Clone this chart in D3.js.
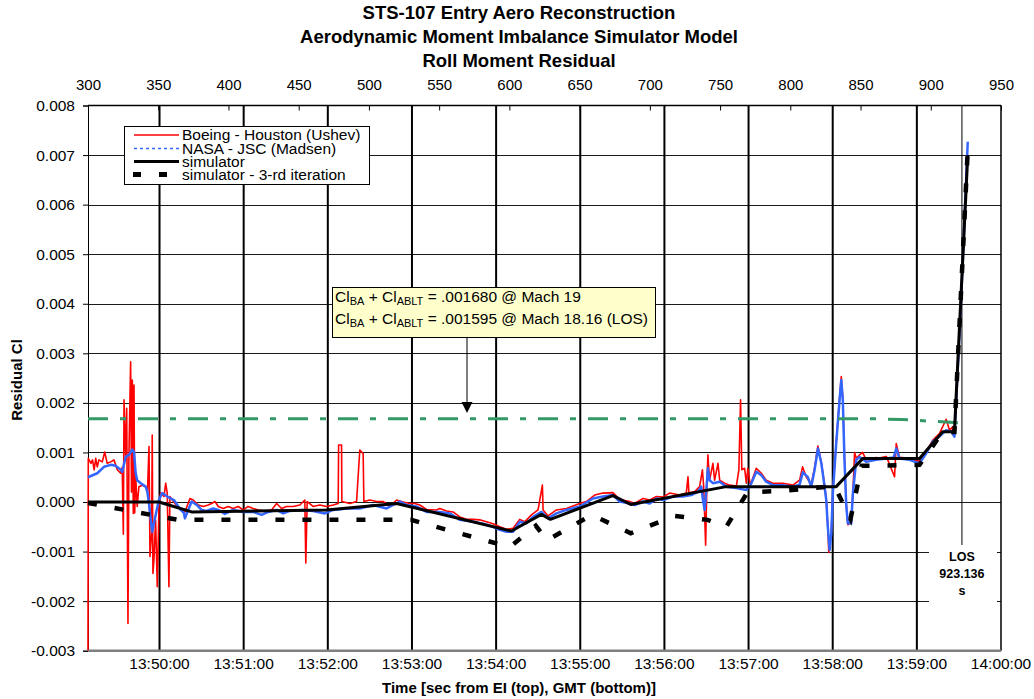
<!DOCTYPE html>
<html>
<head>
<meta charset="utf-8">
<script src="https://cdn.jsdelivr.net/npm/d3@7"></script>
<style>
  body { margin: 0; background: #fff; }
  svg { display: block; }
  text { font-family: "Liberation Sans", Arial, Helvetica, sans-serif; fill: #000; }
</style>
</head>
<body>
<svg id="chart" width="1034" height="699"></svg>
<script>
// Time is in seconds from Entry Interface (EI = 13:44:09 GMT).
// Residual roll-moment values in the series arrays are in units of 1e-3.
const EI_GMT_SECONDS = 13 * 3600 + 44 * 60 + 9;
const RESIDUAL_UNIT = 1e-3;

const titleLines = [
  "STS-107 Entry Aero Reconstruction",
  "Aerodynamic Moment Imbalance Simulator Model",
  "Roll Moment Residual"
];
const eiTicks = [300, 350, 400, 450, 500, 550, 600, 650, 700, 750, 800, 850, 900, 950];
const gmtTicks = ["13:50:00", "13:51:00", "13:52:00", "13:53:00", "13:54:00", "13:55:00",
                  "13:56:00", "13:57:00", "13:58:00", "13:59:00", "14:00:00"];
const residualTicks = [-0.003, -0.002, -0.001, 0, 0.001, 0.002, 0.003, 0.004, 0.005, 0.006, 0.007, 0.008];
const seriesNames = ["Boeing - Houston (Ushev)", "NASA - JSC (Madsen)", "simulator", "simulator - 3-rd iteration"];

// Boeing - Houston (Ushev) residual [s from EI, Cl x1e-3]
const boeing = [
  [300,-2.99],[300.2,0.88],[302.1,0.78],[303.2,0.85],[304.4,0.65],[305.5,0.88],[306.6,0.71],[307.8,0.85],
  [310.2,0.81],[311.9,1.01],[313.7,0.78],[316.2,0.81],[318.5,0.85],[320.9,0.65],[323.3,0.58],[324.4,0.70],
  [325.2,-0.65],[325.7,2.06],[326.9,0.85],[327.6,1.89],[328.5,-2.45],[329.2,0.98],[330.4,2.83],[331.0,0.20],
  [331.6,2.46],[332.3,-0.23],[332.8,2.36],[333.3,-0.22],[334.0,0.51],[335.1,-0.09],[336.3,0.31],[338.7,0.34],
  [341.1,0.31],[342.4,0.20],[343.5,1.12],[344.2,-1.10],[345.4,-0.63],[345.8,1.35],[346.3,-1.44],[347.0,-1.17],
  [348.2,-0.36],[349.4,-1.71],[350.6,-0.09],[351.8,0.18],[354.2,0.11],[355.4,0.38],[356.5,0.18],[357.7,-1.71],
  [358.4,0.11],[360.1,0.04],[363.6,-0.09],[365.6,-0.13],[369.1,-0.20],[372.7,0.07],[375.0,0.04],[378.6,-0.06],
  [382.2,-0.09],[385.7,-0.06],[388.1,-0.03],[390.5,0.01],[392.9,-0.09],[396.4,-0.13],[400.0,-0.09],[403.5,-0.13],
  [407.1,-0.09],[410.7,-0.16],[414.2,-0.09],[417.8,-0.13],[421.4,-0.16],[426.1,-0.18],[430.9,-0.16],[434.5,-0.03],
  [438.0,-0.13],[441.6,-0.09],[446.3,-0.09],[451.1,-0.06],[454.6,0.04],[455.3,-1.23],[456.3,0.01],[460.5,-0.09],
  [465.3,-0.06],[470.1,-0.09],[474.8,-0.06],[478.4,-0.03],[478.7,1.15],[480.8,1.15],[481.0,0.01],[486.7,-0.03],
  [491.5,0.01],[493.8,1.05],[496.2,0.98],[496.7,0.01],[501.0,0.04],[505.7,0.01],[510.4,0.01],[515.2,-0.09],
  [520.0,0.04],[524.7,0.00],[529.5,-0.03],[533.0,-0.03],[536.6,-0.06],[541.4,-0.15],[548.5,-0.16],[550.8,-0.13],
  [555.6,-0.18],[560.3,-0.20],[565.1,-0.30],[569.9,-0.35],[574.6,-0.35],[579.3,-0.36],[584.1,-0.40],[588.8,-0.44],
  [593.6,-0.50],[598.4,-0.55],[603.1,-0.53],[607.8,-0.35],[611.4,-0.40],[616.2,-0.26],[620.9,-0.16],[624.0,0.34],
  [624.5,-0.16],[628.0,-0.28],[634.0,-0.16],[641.1,-0.13],[650.6,-0.03],[655.3,0.01],[661.3,0.14],[667.2,0.18],
  [674.3,0.19],[679.1,0.05],[686.2,0.01],[689.8,-0.03],[695.7,0.07],[700.5,0.04],[705.3,0.11],[710.0,0.10],
  [714.8,0.18],[721.9,0.14],[726.6,0.18],[727.8,0.51],[728.5,0.18],[732.6,0.21],[736.1,0.31],[738.1,0.65],
  [739.0,0.31],[740.4,-0.87],[741.3,0.38],[742.0,0.95],[743.2,0.44],[745.6,0.78],[746.8,0.44],[749.2,0.78],
  [750.4,0.44],[753.9,0.38],[757.5,0.34],[762.3,0.32],[764.1,0.65],[765.3,2.06],[766.2,0.65],[768.2,0.68],
  [769.4,0.38],[770.5,0.68],[772.2,0.34],[776.5,0.68],[780.1,0.58],[783.6,0.44],[788.4,0.38],[795.5,0.38],
  [802.6,0.34],[807.4,0.44],[809.5,0.71],[812.1,0.51],[815.7,0.35],[818.1,0.70],[820.4,1.13],[822.9,0.80],
  [825.2,0.35],[826.4,0.05],[827.5,-0.50],[828.2,-1.02],[830.0,-0.60],[831.1,0.20],[833.5,1.20],[835.9,2.10],
  [837.1,2.53],[838.2,2.10],[839.4,0.90],[840.7,-0.05],[841.8,-0.46],[844.2,-0.40],[845.4,0.20],[846.6,1.00],
  [847.8,0.88],[850.1,0.95],[852.3,1.00],[854.9,0.85],[862.0,0.90],[863.2,0.88],[869.2,0.92],[875.1,0.51],
  [876.3,1.18],[878.6,0.90],[885.7,0.88],[892.9,0.82],[897.6,1.02],[902.4,1.25],[907.1,1.38],[911.9,1.67],
  [914.3,1.45],[916.6,1.52],[917.8,1.35],[922.6,4.00],[926.5,6.80]
];

// NASA - JSC (Madsen) residual [s from EI, Cl x1e-3]
const nasa = [
  [300,0.50],[306.6,0.58],[311.4,0.71],[316.2,0.75],[319.7,0.73],[323.3,0.65],[324.4,0.61],[326.9,0.91],
  [329.2,0.95],[331.6,1.06],[332.8,1.01],[334.0,0.58],[335.1,0.44],[337.6,0.38],[341.1,0.31],[342.3,0.21],
  [343.5,-0.03],[344.7,-0.36],[345.8,-0.60],[347.0,-0.43],[349.0,-0.16],[350.6,0.04],[352.9,0.18],[356.5,0.11],
  [361.3,0.04],[366.1,-0.16],[368.4,-0.22],[369.1,-0.33],[373.9,0.01],[377.5,-0.06],[381.0,-0.16],[384.6,-0.18],
  [389.3,-0.13],[392.9,-0.16],[397.6,-0.24],[403.5,-0.16],[410.7,-0.20],[417.8,-0.20],[423.8,-0.26],[428.5,-0.20],
  [434.5,-0.16],[439.2,-0.23],[444.0,-0.18],[453.4,-0.16],[460.5,-0.18],[468.9,-0.23],[474.8,-0.16],[484.4,-0.13],
  [493.8,-0.13],[503.3,-0.06],[512.9,-0.13],[522.3,0.01],[527.1,-0.06],[534.2,-0.09],[541.4,-0.20],[550.8,-0.20],
  [558.0,-0.23],[565.1,-0.36],[574.6,-0.40],[581.7,-0.44],[588.8,-0.50],[593.6,-0.56],[598.4,-0.60],[603.1,-0.60],
  [607.8,-0.40],[612.6,-0.43],[617.3,-0.30],[623.3,-0.20],[628.0,-0.33],[634.0,-0.23],[641.1,-0.16],[650.6,-0.09],
  [660.1,0.07],[667.2,0.11],[674.3,0.14],[679.1,0.01],[686.2,-0.03],[689.8,-0.06],[695.7,0.01],[700.5,-0.03],
  [705.3,0.07],[710.0,0.04],[717.1,0.11],[724.2,0.11],[730.2,0.14],[734.9,0.21],[737.3,0.31],[738.5,0.04],
  [739.7,-0.16],[740.9,0.24],[742.0,0.68],[743.2,0.44],[745.6,0.38],[750.4,0.41],[755.1,0.31],[762.3,0.28],
  [769.4,0.24],[773.0,0.38],[776.5,0.61],[780.1,0.54],[783.6,0.41],[788.4,0.34],[795.5,0.34],[802.6,0.31],
  [807.4,0.35],[809.7,0.60],[813.3,0.50],[815.7,0.31],[818.1,0.65],[820.5,1.08],[822.9,0.78],[825.2,0.31],
  [826.4,0.04],[827.5,-0.50],[828.8,-0.97],[830.0,-0.63],[831.1,0.18],[833.5,1.18],[835.9,2.06],[837.1,2.46],
  [838.2,2.06],[839.4,0.85],[840.7,-0.09],[841.8,-0.43],[844.2,-0.43],[845.4,0.18],[847.8,0.85],[850.1,0.91],
  [854.9,0.81],[862.0,0.85],[869.2,0.88],[874.5,0.90],[876.3,1.08],[878.6,0.88],[885.7,0.85],[892.9,0.78],
  [897.6,0.98],[902.4,1.22],[907.1,1.32],[911.9,1.45],[915.5,1.42],[917.8,1.32],[922.6,4.10],[927.3,7.27]
];

// Simulator model [s from EI, Cl x1e-3]
const simulator = [
  [300,0],[350.6,0],[373.9,-0.20],[470.1,-0.16],[520.0,-0.03],[601.9,-0.585],[623.3,-0.25],[629.7,-0.35],
  [674.3,0.13],[687.0,-0.05],[755.1,0.31],[833.5,0.31],[852.5,0.88],[892.9,0.88],[909.5,1.42],[917.8,1.42],
  [927.3,7.00]
];

// Simulator, 3-rd iteration [s from EI, Cl x1e-3]
const simulator3 = [
  [300,-0.02],[364.1,-0.36],[530.2,-0.36],[600.7,-0.91],[619.3,-0.48],[627.5,-0.77],[659.2,-0.26],[687.0,-0.63],
  [718.3,-0.28],[741.8,-0.36],[755.1,-0.50],[770.3,0.20],[793.1,0.22],[832.3,0.32],[843.7,-0.34],[851.6,0.73],
  [892.9,0.75],[909.3,1.41],[917.8,1.41],[927.1,7.00]
];

// Cl_BA + Cl_ABLT levels
const clMach19 = 0.001680;
const clLOS = 0.001595;
const losTime = 923.136;
// level line [s from EI, Cl]
const clLevel = [[300, clMach19], [860, clMach19], [880, 0.001665], [900, 0.001632], [losTime, clLOS]];

// ---------------------------------------------------------------------------
const FONT = 15.5;
const svg = d3.select("#chart");
const plot = { left: 88, right: 1001, top: 105.5, bottom: 650.7 };

const x = d3.scaleLinear().domain([300, 951]).range([plot.left, plot.right]);
const xTop = d3.scaleLinear().domain([300, 950]).range([plot.left, plot.right]);
const y = d3.scaleLinear().domain([-0.003, 0.008]).range([plot.bottom, plot.top]);

const gmtToEi = s => {
  const [h, m, sec] = s.split(":").map(Number);
  return h * 3600 + m * 60 + sec - EI_GMT_SECONDS;
};
const toCl = arr => arr.map(([t, v]) => [t, v * RESIDUAL_UNIT]);

// horizontal grid
svg.append("g").selectAll("line")
  .data(residualTicks.filter(d => d > -0.003 && d < 0.008))
  .join("line")
  .attr("x1", plot.left).attr("x2", plot.right)
  .attr("y1", d => Math.round(y(d)) + 0.5).attr("y2", d => Math.round(y(d)) + 0.5)
  .attr("stroke", "#1a1a1a").attr("stroke-width", 1);

// vertical GMT grid
svg.append("g").selectAll("line")
  .data(gmtTicks.slice(0, -1))
  .join("line")
  .attr("x1", d => x(gmtToEi(d))).attr("x2", d => x(gmtToEi(d)))
  .attr("y1", plot.top).attr("y2", plot.bottom)
  .attr("stroke", "#000").attr("stroke-width", 2);

// frame
svg.append("line").attr("x1", plot.left).attr("x2", plot.right)
  .attr("y1", plot.top).attr("y2", plot.top).attr("stroke", "#000").attr("stroke-width", 1.5);
svg.append("line").attr("x1", plot.right).attr("x2", plot.right)
  .attr("y1", plot.top).attr("y2", plot.bottom).attr("stroke", "#000").attr("stroke-width", 1.5);

// LOS marker line
svg.append("line").attr("x1", x(losTime)).attr("x2", x(losTime))
  .attr("y1", plot.top).attr("y2", 545).attr("stroke", "#000").attr("stroke-width", 1);

// top axis (seconds from EI)
const topAxis = d3.axisTop(xTop).tickValues(eiTicks).tickSize(-5).tickPadding(16).tickFormat(d3.format("d"));
const gTop = svg.append("g").attr("transform", `translate(0,${plot.top})`).call(topAxis);
gTop.select(".domain").remove();
gTop.selectAll(".tick line").attr("stroke", "#000");
gTop.selectAll(".tick text").attr("font-size", 15).attr("font-family", "Liberation Sans, Arial, sans-serif");

// left axis
const leftAxis = d3.axisLeft(y).tickValues(residualTicks).tickSize(5).tickPadding(8)
  .tickFormat(d => d.toFixed(3));
const gLeft = svg.append("g").attr("transform", `translate(${plot.left},0)`).call(leftAxis);
gLeft.select(".domain").attr("stroke", "#000");
gLeft.selectAll(".tick line").attr("stroke", "#000");
gLeft.selectAll(".tick text").attr("font-size", FONT).attr("font-family", "Liberation Sans, Arial, sans-serif");

// bottom axis (GMT)
const gBottom = svg.append("g");
gBottom.selectAll("text").data(gmtTicks).join("text")
  .attr("x", d => x(gmtToEi(d))).attr("y", 668.5)
  .attr("text-anchor", "middle").attr("font-size", FONT).text(d => d);
svg.append("line").attr("x1", plot.left).attr("x2", plot.right)
  .attr("y1", plot.bottom).attr("y2", plot.bottom).attr("stroke", "#808080").attr("stroke-width", 2.5);

// series
const line = d3.line().x(d => x(d[0])).y(d => y(d[1]));
svg.append("path").datum(toCl(boeing)).attr("d", line)
  .attr("fill", "none").attr("stroke", "#ff0000").attr("stroke-width", 1.6).attr("stroke-linejoin", "round");
svg.append("path").datum(toCl(nasa)).attr("d", line)
  .attr("fill", "none").attr("stroke", "#3366ff").attr("stroke-width", 2.5).attr("stroke-linejoin", "round");
svg.append("path").datum(clLevel).attr("d", line)
  .attr("fill", "none").attr("stroke", "#339966").attr("stroke-width", 3)
  .attr("stroke-dasharray", "20,12,6,12");
svg.append("path").datum(toCl(simulator)).attr("d", line)
  .attr("fill", "none").attr("stroke", "#000").attr("stroke-width", 3).attr("stroke-linejoin", "round");
svg.append("path").datum(toCl(simulator3)).attr("d", line)
  .attr("fill", "none").attr("stroke", "#000").attr("stroke-width", 4.5)
  .attr("stroke-dasharray", "9,18");

// LOS label
svg.append("rect").attr("x", 929).attr("y", 545).attr("width", 68).attr("height", 58).attr("fill", "#fff");
const losText = svg.append("g").attr("font-size", 12.5).attr("font-weight", "bold").attr("text-anchor", "middle");
["LOS", losTime.toFixed(3), "s"].forEach((t, i) => {
  losText.append("text").attr("x", x(losTime)).attr("y", 561 + i * 17).text(t);
});

// annotation
const ann = svg.append("g");
ann.append("rect").attr("x", 332.5).attr("y", 287.5).attr("width", 323).attr("height", 50)
  .attr("fill", "#ffffcc").attr("stroke", "#000").attr("stroke-width", 1);
const annLines = [
  { sub1: "BA", sub2: "ABLT", rest: " = " + clMach19.toFixed(6).slice(1) + " @ Mach 19" },
  { sub1: "BA", sub2: "ABLT", rest: " = " + clLOS.toFixed(6).slice(1) + " @ Mach 18.16 (LOS)" }
];
annLines.forEach((l, i) => {
  const t = ann.append("text").attr("x", 335).attr("y", 302 + i * 22).attr("font-size", FONT);
  t.append("tspan").text("Cl");
  t.append("tspan").attr("font-size", 11).attr("dy", 3).text(l.sub1);
  t.append("tspan").attr("dy", -3).text(" + Cl");
  t.append("tspan").attr("font-size", 11).attr("dy", 3).text(l.sub2);
  t.append("tspan").attr("dy", -3).text(l.rest);
});
const arrowX = 467;
ann.append("line").attr("x1", arrowX).attr("x2", arrowX).attr("y1", 338).attr("y2", 404)
  .attr("stroke", "#000").attr("stroke-width", 1);
ann.append("path").attr("d", `M${arrowX - 5.5},402 L${arrowX + 5.5},402 L${arrowX},413 Z`).attr("fill", "#000");

// legend
const leg = svg.append("g");
leg.append("rect").attr("x", 124.5).attr("y", 126.5).attr("width", 245).attr("height", 58)
  .attr("fill", "#fff").attr("stroke", "#000").attr("stroke-width", 1);
const legRows = [135, 148.5, 161.5, 174.5];
const legStyles = [
  { stroke: "#ff0000", width: 1.5, dash: null },
  { stroke: "#3366ff", width: 1.5, dash: "3,3" },
  { stroke: "#000", width: 3, dash: null },
  { stroke: "#000", width: 5, dash: "8,18" }
];
seriesNames.forEach((name, i) => {
  const s = legStyles[i];
  const l = leg.append("line").attr("x1", i === 3 ? 133 : 134).attr("x2", i === 3 ? 169 : 179)
    .attr("y1", legRows[i]).attr("y2", legRows[i])
    .attr("stroke", s.stroke).attr("stroke-width", s.width);
  if (s.dash) l.attr("stroke-dasharray", s.dash);
  leg.append("text").attr("x", 182).attr("y", legRows[i] + 5).attr("font-size", FONT).text(name);
});

// titles
titleLines.forEach((t, i) => {
  svg.append("text").attr("x", 519).attr("y", 18.5 + i * 24).attr("text-anchor", "middle")
    .attr("font-size", 18.5).attr("font-weight", "bold").text(t);
});
svg.append("text").attr("x", 519).attr("y", 693).attr("text-anchor", "middle")
  .attr("font-size", 15).attr("font-weight", "bold").text("Time [sec from EI (top), GMT (bottom)]");
svg.append("text").attr("transform", "translate(22,380) rotate(-90)").attr("text-anchor", "middle")
  .attr("font-size", 15).attr("font-weight", "bold").text("Residual Cl");
</script>
</body>
</html>
